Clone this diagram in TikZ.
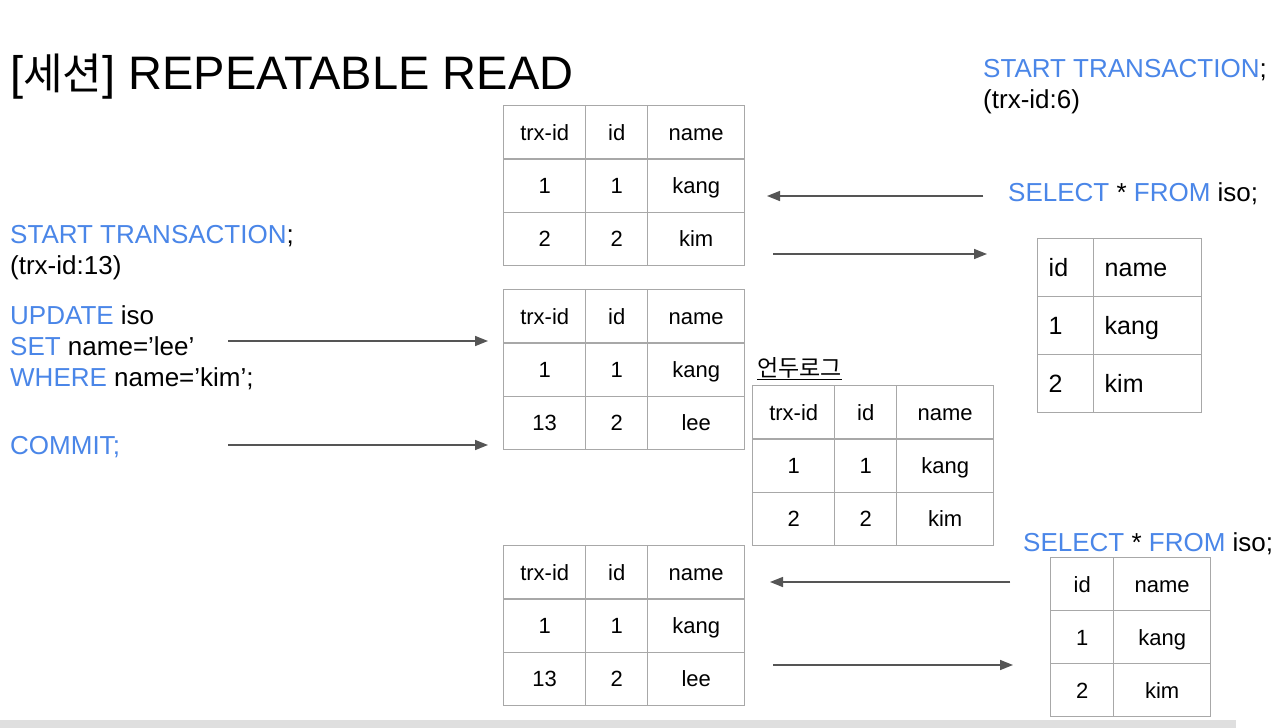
\documentclass[tikz,border=0pt]{standalone}
\usepackage{fontspec}
\setmainfont{Liberation Sans}
\newfontfamily\kr{Noto Sans CJK KR}
\usepackage{tikz}
\usetikzlibrary{arrows.meta, matrix, positioning}

\definecolor{sqlblue}{HTML}{4A86E8}
\definecolor{gridgray}{HTML}{A8A8A8}
\definecolor{arrowgray}{HTML}{555555}
\newcommand{\kw}[1]{\textcolor{sqlblue}{#1}}

\begin{document}
\begin{tikzpicture}[x=1pt,y=-1pt,>={Triangle[length=13pt,width=10pt]},
		font=\fontsize{26}{31}\selectfont]

		\tikzstyle{cell}=[draw=gridgray,line width=1.4pt,inner sep=0pt,outer sep=0pt,
			minimum height=53.3pt,text height=17pt,text depth=1pt,
			font=\fontsize{22}{26}\selectfont]
		\tikzstyle{table}=[matrix of nodes,inner sep=0pt,outer sep=0pt,
			column sep=-1.4pt,row sep=-1.4pt,anchor=north west,nodes={cell}]
		\tikzstyle{trx table}=[table,
			column 1/.style={nodes={minimum width=82pt}},
			column 2/.style={nodes={minimum width=62pt}},
			column 3/.style={nodes={minimum width=97pt}}]
		\tikzstyle{sql}=[anchor=base west,inner sep=0pt]
		\tikzstyle{post}=[->,draw=arrowgray,fill=arrowgray,line width=1.5pt]

		\fill[white] (0,0) rectangle (1280,728);
		\useasboundingbox (0,0) rectangle (1280,728);
		\fill[gray!25] (0,720) rectangle (1236,728);

		% title
		\node [sql, font=\fontsize{47}{52}\selectfont] (title) at (10,89)
			{[{\kr\fontsize{43}{46}\selectfont 세션}] REPEATABLE READ};

		% session trx-id 6
		\node [sql] (start6) at (983,77) {\kw{START TRANSACTION};};
		\node [sql] (trx6) at (983,108) {(trx-id:6)};
		\node [sql] (select6) at (1008,201) {\kw{SELECT} * \kw{FROM} iso;};
		\node [sql] (reselect6) at (1023,551) {\kw{SELECT} * \kw{FROM} iso;};

		% session trx-id 13
		\node [sql] (start13) at (10,243) {\kw{START TRANSACTION};};
		\node [sql] (trx13) at (10,274) {(trx-id:13)};
		\node [sql] (update13) at (10,324) {\kw{UPDATE} iso};
		\node [sql] (set13) at (10,355) {\kw{SET} name=’lee’};
		\node [sql] (where13) at (10,386) {\kw{WHERE} name=’kim’;};
		\node [sql] (commit13) at (10,454) {\kw{COMMIT;}};

		% tables
		\matrix [trx table] (before) at (503,105) {
			trx-id & id & name \\
			1 & 1 & kang \\
			2 & 2 & kim \\
		};
		\matrix [trx table] (updated) at (503,289) {
			trx-id & id & name \\
			1 & 1 & kang \\
			13 & 2 & lee \\
		};
		\matrix [trx table] (committed) at (503,545) {
			trx-id & id & name \\
			1 & 1 & kang \\
			13 & 2 & lee \\
		};
		\node [sql, font=\kr\fontsize{23}{26}\selectfont] (undolabel) at (757,376)
			{\underline{언두로그}};
		\matrix [trx table] (undo) at (752,385) {
			trx-id & id & name \\
			1 & 1 & kang \\
			2 & 2 & kim \\
		};
		\matrix [table, nodes={minimum height=58pt, align=left, inner xsep=11pt,
				text height=19pt, text depth=1pt, font=\fontsize{25}{30}\selectfont},
			column 1/.style={nodes={text width=34pt}},
			column 2/.style={nodes={text width=86pt}}] (result1) at (1037,238) {
			id & name \\
			1 & kang \\
			2 & kim \\
		};
		\matrix [table, nodes={minimum height=53pt},
			column 1/.style={nodes={minimum width=63pt}},
			column 2/.style={nodes={minimum width=97pt}}] (result2) at (1050,557) {
			id & name \\
			1 & kang \\
			2 & kim \\
		};

		% arrows
		\coordinate (q1s) at (983,196);
		\coordinate (q1e) at (767,196);
		\coordinate (r1s) at (773,254);
		\coordinate (r1e) at (987,254);
		\coordinate (u1s) at (228,341);
		\coordinate (u1e) at (488,341);
		\coordinate (c1s) at (228,445);
		\coordinate (c1e) at (488,445);
		\coordinate (q2s) at (1010,582);
		\coordinate (q2e) at (770,582);
		\coordinate (r2s) at (773,665);
		\coordinate (r2e) at (1013,665);
		\draw [post] (q1s) -- (q1e);
		\draw [post] (r1s) -- (r1e);
		\draw [post] (u1s) -- (u1e);
		\draw [post] (c1s) -- (c1e);
		\draw [post] (q2s) -- (q2e);
		\draw [post] (r2s) -- (r2e);
	\end{tikzpicture}
\end{document}
